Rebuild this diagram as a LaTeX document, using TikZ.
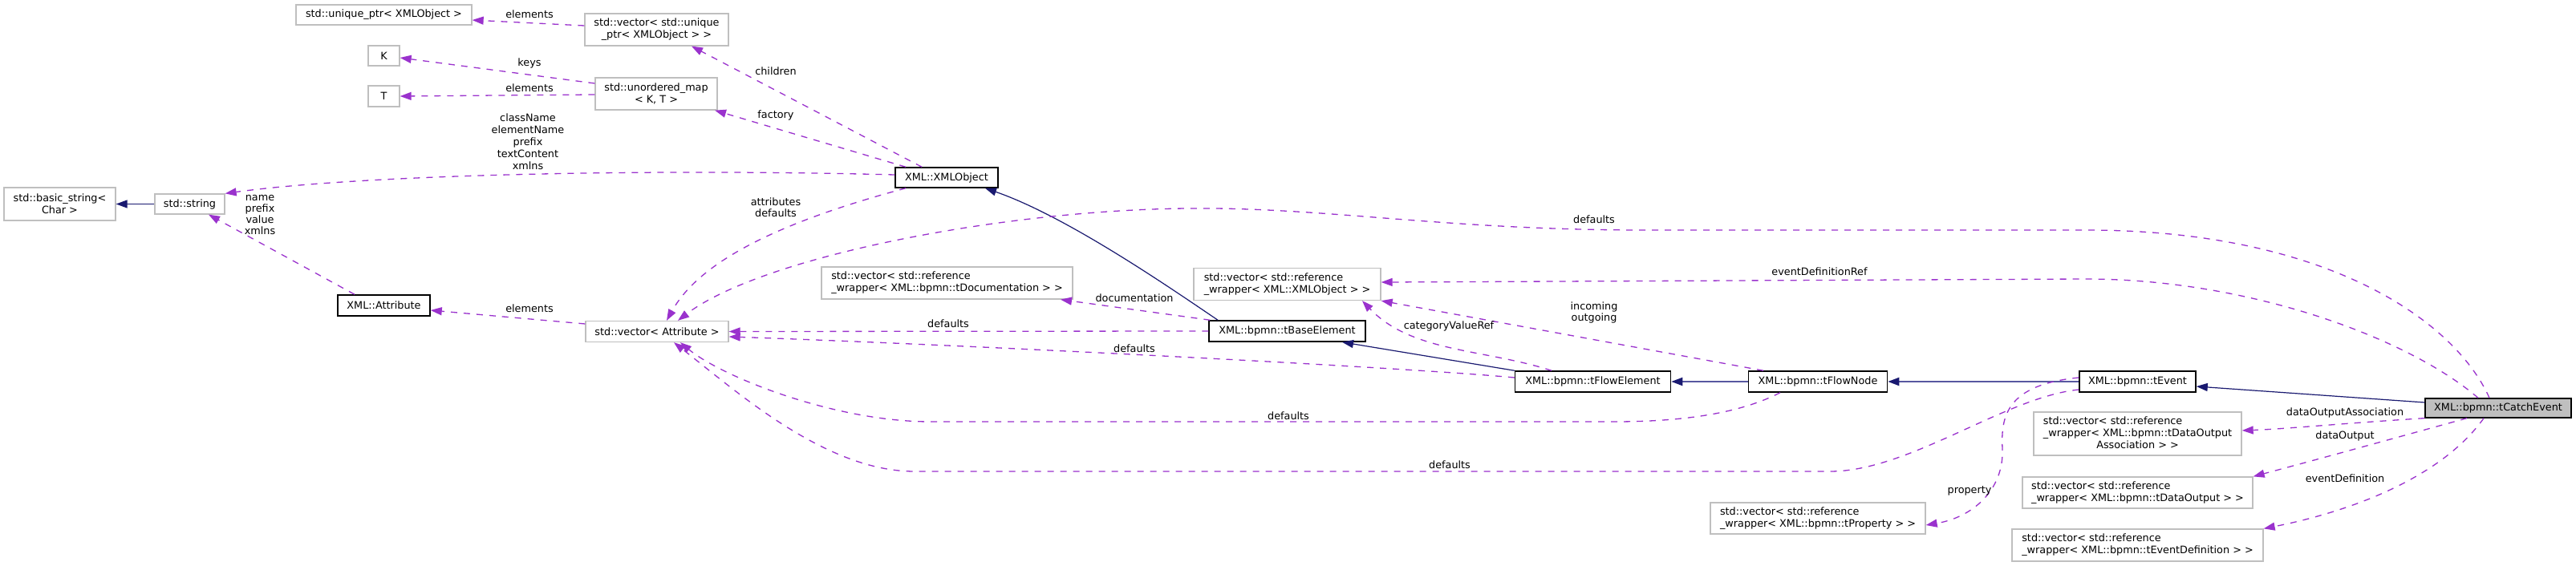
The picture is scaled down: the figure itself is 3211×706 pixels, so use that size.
\documentclass[tikz,border=0pt]{standalone}
\usepackage{fontspec}
\setmainfont{DejaVu Sans}
\usetikzlibrary{arrows.meta}
\definecolor{edgeP}{RGB}{154,50,205}
\definecolor{navyc}{RGB}{25,25,112}
\definecolor{navyl}{RGB}{88,88,160}
\definecolor{grayb}{RGB}{191,191,191}
\definecolor{catchfill}{RGB}{191,191,191}
\begin{document}
\begin{tikzpicture}[x=1pt,y=-1pt,
  font=\fontsize{12.8}{15}\selectfont,
  box/.style={draw=grayb,line width=1.3pt,fill=white,inner sep=0pt,align=center},
  cls/.style={draw=black,line width=1.5pt,fill=white,inner sep=0pt,align=center},
  use/.style={draw=edgeP,line width=1.3pt,dash pattern=on 8pt off 8pt,-{Triangle[length=14pt,width=10pt,fill=edgeP]}},
  inh/.style={draw=navyc,line width=1.2pt,-{Triangle[length=14pt,width=10pt,fill=navyc]}},
  inhb/.style={draw=navyl,line width=2pt,-{Triangle[length=14pt,width=10pt,fill=navyc,color=navyc]}},
  lbl/.style={inner sep=0pt,align=center}]
\useasboundingbox[fill=white] (0,0) rectangle (3211,706);

% ---------- nodes ----------
\node[box,minimum width=139pt,minimum height=41pt] (basic) at (74.5,254.5) {std::basic\_string<\\Char >};
\node[box,minimum width=87pt,minimum height=25pt] (string) at (236.5,254.5) {std::string};
\node[box,minimum width=219pt,minimum height=25pt] (uniqueptr) at (478.5,18.5) {std::unique\_ptr< XMLObject >};
\node[box,minimum width=39pt,minimum height=25pt] (K) at (478.5,69.5) {K};
\node[box,minimum width=39pt,minimum height=26pt] (T) at (478.5,120) {T};
\node[cls,minimum width=115pt,minimum height=26pt] (attribute) at (478.5,381) {XML::Attribute};
\node[box,minimum width=179pt,minimum height=40pt] (vecunique) at (818.5,37) {std::vector< std::unique\\\_ptr< XMLObject > >};
\node[box,minimum width=152pt,minimum height=40pt] (umap) at (818,117) {std::unordered\_map\\< K, T >};
\node[box,minimum width=178pt,minimum height=26pt] (vecattr) at (819,413.5) {std::vector< Attribute >};
\node[cls,minimum width=128pt,minimum height=25pt] (xmlobject) at (1180,221.5) {XML::XMLObject};
\node[box,align=left,minimum width=313pt,minimum height=40pt] (vecdoc) at (1180.5,353) {std::vector< std::reference\\\_wrapper< XML::bpmn::tDocumentation > >};
\node[cls,minimum width=195pt,minimum height=26pt] (baseel) at (1604.5,413) {XML::bpmn::tBaseElement};
\node[box,align=left,minimum width=233pt,minimum height=40pt] (vecxmlref) at (1604.5,354.5) {std::vector< std::reference\\\_wrapper< XML::XMLObject > >};
\node[cls,minimum width=194pt,minimum height=26pt] (flowel) at (1985.5,476) {XML::bpmn::tFlowElement};
\node[cls,minimum width=173pt,minimum height=26pt] (flownode) at (2266,476) {XML::bpmn::tFlowNode};
\node[cls,minimum width=145pt,minimum height=26pt] (event) at (2664.5,476) {XML::bpmn::tEvent};
\node[draw=black,line width=1.3pt,fill=catchfill,inner sep=0pt,minimum width=182pt,minimum height=24pt] (catch) at (3114,509) {XML::bpmn::tCatchEvent};
\node[box,align=left,minimum width=268pt,minimum height=39pt] (vecprop) at (2266,646.5) {std::vector< std::reference\\\_wrapper< XML::bpmn::tProperty > >};
\node[box,minimum width=259pt,minimum height=54pt] (vecdoa) at (2664.5,541) {\begin{tabular}{@{}l@{}}std::vector< std::reference\\\_wrapper< XML::bpmn::tDataOutput\\\multicolumn{1}{@{}c@{}}{Association > >}\end{tabular}};
\node[box,align=left,minimum width=287pt,minimum height=39pt] (vecdo) at (2664.5,614.5) {std::vector< std::reference\\\_wrapper< XML::bpmn::tDataOutput > >};
\node[box,align=left,minimum width=313pt,minimum height=40pt] (vecevd) at (2664.5,680) {std::vector< std::reference\\\_wrapper< XML::bpmn::tEventDefinition > >};

% ---------- inheritance ----------
\draw[inh] (string.west) -- (basic.east);
\draw[inh] ([xshift=-86.5pt]baseel.north) .. controls (1460,360) and (1330,270) .. ([xshift=48pt]xmlobject.south);
\draw[inh] (flowel.north west) -- ([xshift=68.5pt]baseel.south);
\draw[inhb] (flownode.west) -- (flowel.east);
\draw[inhb] (event.west) -- (flownode.east);
\draw[inh] ([yshift=7pt]catch.west) -- ([yshift=-6pt]event.east);

% ---------- usage ----------
\draw[use] ([yshift=5pt]vecunique.west) -- ([yshift=-6.5pt]uniqueptr.east);
\draw[use] ([yshift=13pt]umap.west) -- ([yshift=-2.5pt]K.east);
\draw[use] ([yshift=-1pt]umap.west) -- (T.east);
\draw[use] ([xshift=-31pt]xmlobject.north) -- ([xshift=43.5pt]vecunique.south);
\draw[use] ([xshift=-51pt]xmlobject.north) -- ([xshift=73pt]umap.south);
\draw[use] ([yshift=3.5pt]xmlobject.west) .. controls (800,210) and (450,218) .. (string.north east);
\draw[use] ([xshift=-36.5pt]attribute.north) -- ([xshift=23.5pt]string.south);
\draw[use] ([yshift=9.5pt]vecattr.west) -- ([yshift=-6pt]attribute.east);
\draw[use] ([xshift=-51pt]xmlobject.south) .. controls (960,280) and (870,330) .. ([xshift=12pt]vecattr.north);
\draw[use] ([xshift=-11pt]catch.north) .. controls (3060,400) and (2900,287) .. (2600,287) -- (2050,287)
   .. controls (1800,287) and (1650,258) .. (1480,260) .. controls (1250,262) and (950,320) .. ([xshift=26pt]vecattr.north);
\draw[use] ([xshift=-25pt]catch.north) .. controls (3000,420) and (2800,348) .. (2600,348) -- ([yshift=2.5pt]vecxmlref.east);
\draw[use] ([xshift=-68pt]flownode.north) -- (vecxmlref.south east);
\draw[use] ([xshift=-51.5pt]flowel.north) .. controls (1850,435) and (1760,440) .. ([xshift=93.5pt]vecxmlref.south);
\draw[use] ([xshift=2pt]baseel.north west) -- ([xshift=141.5pt]vecdoc.south);
\draw[use] (baseel.west) -- (vecattr.east);
\draw[use] ([yshift=5pt]flowel.west) .. controls (1750,458) and (1200,430) .. ([yshift=-6.5pt]vecattr.east);
\draw[use] ([xshift=-47pt]flownode.south) .. controls (2170,515) and (2100,526) .. (2012,526) -- (1160,526)
   .. controls (1040,526) and (900,470) .. ([xshift=29pt]vecattr.south);
\draw[use] ([yshift=-10pt]event.west) .. controls (2500,495) and (2380,588) .. (2281,588) -- (1140,588)
   .. controls (1030,588) and (920,490) .. ([xshift=21pt]vecattr.south);
\draw[use] ([yshift=5pt]event.west) .. controls (2500,480) and (2494,520) .. (2496,560)
   .. controls (2498,610) and (2460,645) .. ([yshift=-8.5pt]vecprop.east);
\draw[use] (catch.south west) .. controls (2920,528) and (2850,535) .. ([yshift=4pt]vecdoa.east);
\draw[use] ([xshift=-39pt]catch.south) .. controls (2990,545) and (2900,570) .. (vecdo.north east);
\draw[use] ([xshift=-18pt]catch.south) .. controls (3040,600) and (2920,640) .. (vecevd.north east);

% ---------- labels ----------
\node[lbl] (lelem1) at (660,18) {elements};
\node[lbl] (lkeys) at (660,79) {keys};
\node[lbl] (lelem2) at (660,110) {elements};
\node[lbl] (lchildren) at (967,89) {children};
\node[lbl] (lfactory) at (967,144) {factory};
\node[lbl] (lclass) at (658,177) {className\\elementName\\prefix\\textContent\\xmlns};
\node[lbl,font=\fontsize{12.8}{14.3}\selectfont] (lname) at (324,268) {name\\prefix\\value\\xmlns};
\node[lbl] (lelem3) at (660,385) {elements};
\node[lbl,font=\fontsize{12.8}{14}\selectfont] (lattr) at (967,259) {attributes\\defaults};
\node[lbl] (ldef1) at (1987,274) {defaults};
\node[lbl] (levref) at (2268,339) {eventDefinitionRef};
\node[lbl,font=\fontsize{12.8}{14}\selectfont] (linout) at (1987,390) {incoming\\outgoing};
\node[lbl] (lcat) at (1806,407) {categoryValueRef};
\node[lbl] (ldoc) at (1414,372) {documentation};
\node[lbl] (ldef2) at (1182,404) {defaults};
\node[lbl] (ldef3) at (1414,435) {defaults};
\node[lbl] (ldef4) at (1606,519) {defaults};
\node[lbl] (ldef5) at (1807,580) {defaults};
\node[lbl] (lprop) at (2455,612) {property};
\node[lbl] (ldoa) at (2923,515) {dataOutputAssociation};
\node[lbl] (ldo) at (2923,544) {dataOutput};
\node[lbl] (levd) at (2923,597) {eventDefinition};
\end{tikzpicture}
\end{document}
